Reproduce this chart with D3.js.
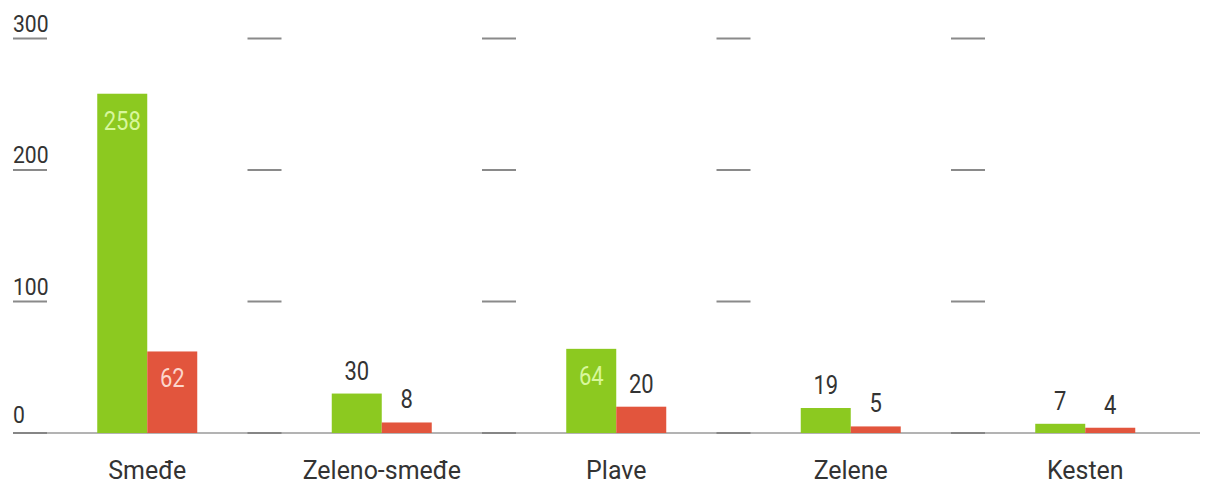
<!DOCTYPE html>
<html>
<head>
<meta charset="utf-8">
<script src="https://cdn.jsdelivr.net/npm/d3@7"></script>
<style>
  html, body { margin: 0; padding: 0; background: #fff; }
  svg text { font-family: "Roboto", "Liberation Sans", sans-serif; }
</style>
</head>
<body>
<div id="chart"></div>
<script>
(function () {
  'use strict';

  // data
  var categories = ['Smeđe', 'Zeleno-smeđe', 'Plave', 'Zelene', 'Kesten'];
  var greenValues = [258, 30, 64, 19, 7];
  var redValues = [62, 8, 20, 5, 4];
  var yTicks = [0, 100, 200, 300];

  var width = 1211, height = 485;
  var green = '#8cc920', red = '#e2553d';
  var numScale = 0.88; // numbers are set narrow

  var svg = d3.select('#chart')
    .append('svg')
    .attr('width', width)
    .attr('height', height);

  // band scale: each category takes one band, bars sit around its centre
  var x = d3.scaleBand()
    .domain(categories)
    .range([30, 1202.5])
    .padding(0);

  var y = d3.scaleLinear()
    .domain([0, 300])
    .range([433, 38.5]);

  var barW = 50;
  var dashHalf = 17;

  function place(px, py, sx) {
    return 'translate(' + px + ',' + py + ') scale(' + sx + ',1)';
  }

  // base line
  svg.append('line')
    .attr('x1', 13).attr('x2', 1200)
    .attr('y1', y(0)).attr('y2', y(0))
    .style('stroke', '#9a9a9a')
    .style('stroke-width', 1.5);

  // short grid dashes at the band edges
  yTicks.forEach(function (t) {
    categories.forEach(function (c) {
      svg.append('line')
        .attr('x1', x(c) - dashHalf).attr('x2', x(c) + dashHalf)
        .attr('y1', y(t)).attr('y2', y(t))
        .style('stroke', t === 0 ? '#777' : '#8a8a8a')
        .style('stroke-width', t === 0 ? 1.5 : 2);
    });
  });

  // y labels
  svg.selectAll('.ylab')
    .data(yTicks)
    .enter().append('text')
    .attr('class', 'ylab')
    .attr('transform', function (d) {
      return place(x(categories[0]) - dashHalf, y(d) - (d === 0 ? 10 : 7), numScale);
    })
    .style('font-size', '24px')
    .style('fill', '#333')
    .text(function (d) { return d; });

  var series = [
    { values: greenValues, color: green, inner: '#d8f79c', off: -barW },
    { values: redValues, color: red, inner: '#fcd6cc', off: 0 }
  ];

  series.forEach(function (s) {
    var g = svg.append('g');
    g.selectAll('rect')
      .data(s.values)
      .enter().append('rect')
      .attr('x', function (d, i) { return x(categories[i]) + x.bandwidth() / 2 + s.off; })
      .attr('y', function (d) { return y(d); })
      .attr('width', barW)
      .attr('height', function (d) { return y(0) - y(d); })
      .style('fill', s.color);

    g.selectAll('text')
      .data(s.values)
      .enter().append('text')
      .attr('transform', function (d, i) {
        var cx = x(categories[i]) + x.bandwidth() / 2 + s.off + barW / 2;
        var h = y(0) - y(d);
        return place(cx, h > 50 ? y(d) + 36 : y(d) - 14, numScale);
      })
      .attr('text-anchor', 'middle')
      .style('font-size', '25px')
      .style('fill', function (d) { return (y(0) - y(d)) > 50 ? s.inner : '#333'; })
      .text(function (d) { return d; });
  });

  // category labels
  svg.selectAll('.xlab')
    .data(categories)
    .enter().append('text')
    .attr('class', 'xlab')
    .attr('transform', function (d) { return place(x(d) + x.bandwidth() / 2, 479, 0.96); })
    .attr('text-anchor', 'middle')
    .style('font-size', '26px')
    .style('fill', '#333')
    .text(function (d) { return d; });
})();
</script>
</body>
</html>
